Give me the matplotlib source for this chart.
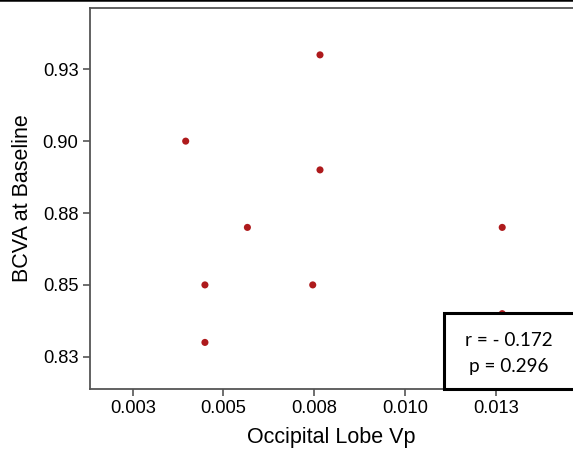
import matplotlib.pyplot as plt
from matplotlib.patches import Rectangle
from matplotlib.lines import Line2D

# data
vp = [0.00766, 0.00396, 0.00766, 0.00566, 0.01268, 0.00449, 0.00746, 0.00449, 0.01268]
bcva = [0.930, 0.900, 0.890, 0.870, 0.870, 0.850, 0.850, 0.830, 0.840]
xticks = [0.0025, 0.005, 0.0075, 0.010, 0.0125]
xticklabels = ['0.003', '0.005', '0.008', '0.010', '0.013']
yticks = [0.825, 0.850, 0.875, 0.900, 0.925]
yticklabels = ['0.83', '0.85', '0.88', '0.90', '0.93']
stats = ['r = - 0.172', 'p = 0.296']

W, H = 573, 461
fig = plt.figure(figsize=(W / 100, H / 100), dpi=100)
plt.rcParams['font.family'] = ['Liberation Sans', 'DejaVu Sans']

ax = fig.add_axes([89.5 / W, 1 - 389 / H, (W - 89.5) / W, (389 - 8) / H])
ax.scatter(vp, bcva, s=26, color='#AE1A1C', edgecolors='none', zorder=3)

ax.set_xlim(0.00131, 0.01463)
ax.set_ylim(0.8138, 0.9463)
ax.set_xticks(xticks)
ax.set_xticklabels(xticklabels)
ax.set_yticks(yticks)
ax.set_yticklabels(yticklabels)
ax.tick_params(labelsize=13.2, length=5, width=1.2, color='#555555', pad=3)

for s in ['left', 'bottom', 'top']:
    ax.spines[s].set_color('#555555')
    ax.spines[s].set_linewidth(1.3)
ax.spines['right'].set_visible(False)

ax.set_xlabel('Occipital Lobe Vp', fontsize=15.5, labelpad=7)
ax.set_ylabel('BCVA at Baseline', fontsize=15.5, labelpad=7)

# stats box
fig.add_artist(Rectangle((444 / W, 1 - 389 / H), 140 / W, 76 / H,
                         transform=fig.transFigure, facecolor='white',
                         edgecolor='black', linewidth=2.2, zorder=5))
fig.text(509 / W, 1 - 341 / H, stats[0], ha='center', va='center',
         fontsize=13.6, family=['Lato', 'DejaVu Sans'], zorder=6)
fig.text(509 / W, 1 - 366 / H, stats[1], ha='center', va='center',
         fontsize=13.6, family=['Lato', 'DejaVu Sans'], zorder=6)

# black rule at the top
fig.add_artist(Line2D([0, 1], [1 - 0.5 / H, 1 - 0.5 / H], transform=fig.transFigure,
                      color='black', linewidth=1.8))

fig.savefig('out.png', dpi=100)
